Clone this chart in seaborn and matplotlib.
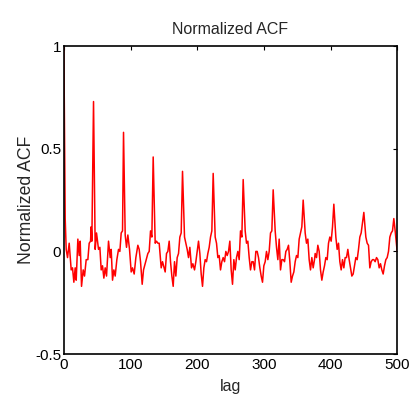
import pandas as pd
import matplotlib
matplotlib.use("Agg")
import matplotlib.pyplot as plt
import seaborn as sns

# lag positions and ACF values
lags = [0, 2, 3.5, 5.5, 8, 11, 13, 15, 17, 18.5, 21, 23, 24.5, 26.5, 29, 31, 33.5, 36, 38, 40, 41, 42,
        44.5, 47, 49, 52, 54, 56, 58, 60, 62, 64, 67, 69.5, 71, 73, 75, 77, 79.5, 82, 84, 86, 88,
        89.5, 92, 94, 96, 98.5, 101, 103, 105.5, 108, 111, 113, 115, 117.5, 119.5, 122, 124.5, 126, 128, 130, 132,
        134, 137, 139, 141, 143, 146, 148, 150.5, 152, 154, 156, 158, 160, 162, 164, 166, 168, 170, 172, 174, 176,
        178, 181, 183, 185, 187, 189, 191.5, 193.5, 196, 198, 200, 202, 204, 206, 208, 210, 212, 214, 216, 218, 220, 222,
        224, 227, 229, 231, 233, 235, 237, 239, 241, 243, 245, 247, 249, 251, 253, 255, 257, 259, 261, 263, 265, 267,
        269, 272, 274, 276, 278, 280, 282, 284, 286, 288, 290, 292, 294, 296, 298, 300, 302, 304, 306, 308, 310, 312,
        314, 317, 319, 321, 323, 325, 327, 329, 331, 333, 335, 337, 339, 341, 343, 345, 347, 349, 351, 353, 355, 357,
        359, 362, 364, 366, 368, 370, 372, 374, 376, 377, 379, 381, 383, 385, 387, 389, 391, 393, 395, 397, 399, 401, 403,
        405, 408, 410, 412, 414, 416, 418, 420, 422, 424, 426, 428, 430, 432, 434, 436, 438, 440, 442, 444, 446, 448,
        450, 453, 455, 457, 459, 461, 463, 465, 467, 469, 471, 473, 475, 477, 479, 481, 483, 485, 487, 489, 491, 493,
        495, 497, 500]
acf = [1.0, 0.16, 0.01, -0.03, 0.04, -0.09, -0.08, -0.15, -0.08, -0.14, 0.06, -0.02, 0.05, -0.17, -0.09, -0.12, -0.04, -0.04, 0.04, 0.05, 0.12, 0.05,
       0.73, 0.01, 0.09, 0.01, 0.02, -0.09, -0.07, -0.13, -0.08, -0.12, 0.05, -0.03, 0.01, -0.14, -0.09, -0.12, -0.04, 0.01, 0.0, 0.09, 0.10,
       0.58, 0.08, 0.02, 0.08, 0.01, -0.10, -0.08, -0.11, -0.03, 0.03, 0.01, -0.05, -0.16, -0.09, -0.06, -0.03, -0.01, 0.0, 0.10, 0.07,
       0.46, 0.04, 0.05, 0.04, 0.04, -0.08, -0.05, -0.08, -0.10, -0.01, 0.0, 0.05, -0.05, -0.12, -0.17, -0.05, -0.12, -0.03, -0.01, 0.07, 0.09,
       0.39, 0.07, 0.04, 0.01, -0.03, 0.02, -0.08, -0.06, -0.09, -0.05, 0.0, 0.05, -0.01, -0.11, -0.17, -0.08, -0.04, -0.05, -0.01, 0.02, 0.07, 0.10,
       0.38, 0.07, 0.04, -0.03, -0.02, -0.09, -0.05, -0.03, -0.05, 0.0, -0.02, 0.0, 0.05, -0.09, -0.16, -0.04, -0.09, -0.03, 0.0, -0.04, 0.10, 0.07,
       0.35, 0.10, 0.04, 0.05, -0.03, -0.09, -0.05, -0.05, -0.09, 0.0, 0.0, -0.03, -0.08, -0.12, -0.15, -0.07, -0.05, 0.0, -0.04, 0.0, 0.09, 0.10,
       0.30, 0.10, 0.02, -0.04, 0.06, -0.09, -0.04, -0.04, -0.05, 0.0, 0.01, 0.03, -0.05, -0.15, -0.12, -0.10, -0.05, -0.02, -0.03, 0.06, 0.09, 0.12,
       0.25, 0.09, 0.04, 0.06, -0.04, -0.09, -0.03, -0.08, -0.04, -0.01, -0.03, 0.03, 0.0, -0.09, -0.14, -0.10, -0.07, -0.03, -0.04, 0.04, 0.07, 0.05, 0.12,
       0.23, 0.07, 0.01, 0.04, -0.05, -0.09, -0.04, -0.08, -0.03, -0.03, 0.01, -0.04, -0.08, -0.12, -0.11, -0.07, -0.03, -0.04, 0.01, 0.07, 0.09, 0.14,
       0.19, 0.07, 0.04, 0.03, -0.08, -0.05, -0.04, -0.04, -0.05, -0.03, -0.04, -0.08, -0.06, -0.09, -0.11, -0.07, -0.04, -0.03, 0.0, 0.07, 0.09, 0.10,
       0.16, 0.10, 0.0]

df = pd.DataFrame({"lag": lags, "acf": acf})

sns.set_style("white")
plt.rcParams["font.family"] = ["Liberation Sans", "DejaVu Sans"]

fig = plt.figure(figsize=(4.12, 4.01), dpi=100)
ax = fig.add_axes([0.155, 0.117, 0.809, 0.768])

sns.lineplot(data=df, x="lag", y="acf", color="red", linewidth=1.1, ax=ax)

ax.set_xlim(0, 500)
ax.set_ylim(-0.5, 1)
ax.set_xticks([0, 100, 200, 300, 400, 500])
ax.set_yticks([-0.5, 0, 0.5, 1])
ax.set_yticklabels(["-0.5", "0", "0.5", "1"])
ax.tick_params(direction="in", length=3, width=0.8, labelsize=11, colors="black",
               top=True, right=True)
ax.tick_params(axis="x", pad=3)
ax.tick_params(axis="y", pad=2)
for s in ax.spines.values():
    s.set_color("black")
    s.set_linewidth(1.2)

ax.set_title("Normalized ACF", fontsize=11.5, pad=9)
ax.set_xlabel("lag", fontsize=11.5, labelpad=5)
ax.set_ylabel("Normalized ACF", fontsize=12.7, labelpad=0)

fig.savefig("out.png", dpi=100)
